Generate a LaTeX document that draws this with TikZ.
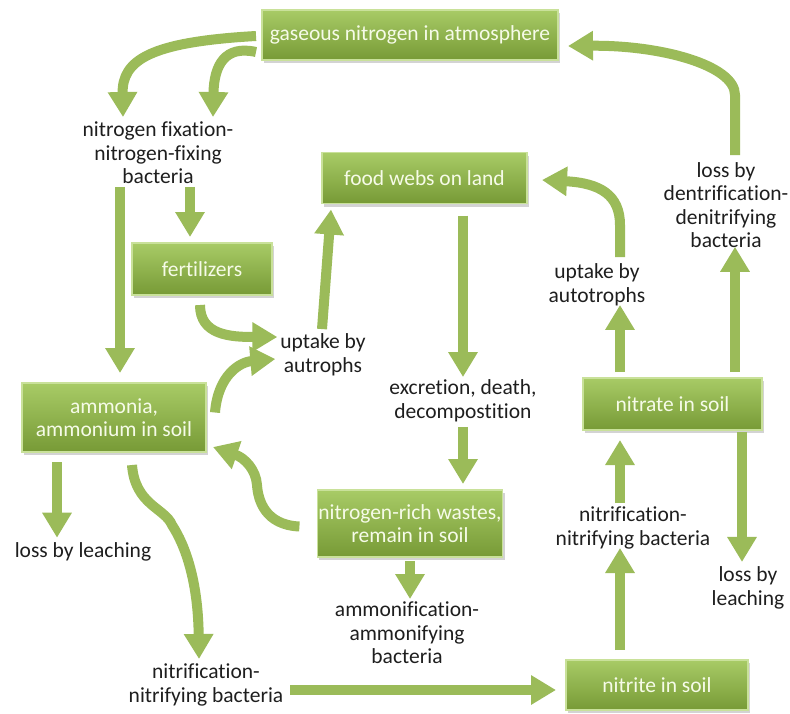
\documentclass[tikz,border=0pt]{standalone}
\usepackage{fontspec}
\setmainfont[Ligatures={NoCommon}]{Carlito}
\usetikzlibrary{arrows.meta,calc,shadows}
\definecolor{arrgreen}{HTML}{9BBB59}
\definecolor{boxtop}{HTML}{A8CB66}
\definecolor{boxbot}{HTML}{779A36}
\definecolor{boxrim}{HTML}{C9E19A}
\definecolor{boxtext}{HTML}{F6FBE8}
\definecolor{lbltext}{HTML}{1E1E1E}
\begin{document}
\begin{tikzpicture}
	[x=1pt,y=-1pt,
	every node/.style={inner sep=1pt,outer sep=0,font=\fontsize{21.5}{23.5}\selectfont},
	cycbox/.style={shape=rectangle,top color=boxtop,bottom color=boxbot,
		draw=boxrim,line width=1.2pt,text=boxtext,align=center,
		drop shadow={shadow xshift=2pt,shadow yshift=-3pt,opacity=.35}},
	lbl/.style={text=lbltext,align=center},
	arr/.style={draw=arrgreen,line width=10pt,
		-{Triangle[width=28pt,length=25pt]}}]
	\useasboundingbox (0,0) rectangle (790,713);
	\node[cycbox,minimum width=296,minimum height=50] (gas)     at (410,35)    {gaseous nitrogen in atmosphere};
	\node[cycbox,minimum width=205,minimum height=51] (food)    at (424.5,178) {food webs on land};
	\node[cycbox,minimum width=140,minimum height=52] (fert)    at (202,269)   {fertilizers};
	\node[cycbox,minimum width=184,minimum height=69] (amm)     at (114,417.5) {ammonia,\\ammonium in soil};
	\node[cycbox,minimum width=180,minimum height=67] (wastes)  at (410,523.5) {nitrogen-rich wastes,\\remain in soil};
	\node[cycbox,minimum width=179,minimum height=52] (nitrate) at (672.5,404) {nitrate in soil};
	\node[cycbox,minimum width=182,minimum height=50] (nitrite) at (657,685)   {nitrite in soil};
	\node[lbl] (fix)     at (158,153) {nitrogen fixation-\\nitrogen-fixing\\bacteria};
	\node[lbl] (upL)     at (323,355) {uptake by\\autrophs};
	\node[lbl] (excr)    at (463,401) {excretion, death,\\decompostition};
	\node[lbl] (leachL)  at (83,552)  {loss by leaching};
	\node[lbl] (ammonif) at (407,633) {ammonification-\\ammonifying\\bacteria};
	\node[lbl] (nitrifL) at (206,685) {nitrification-\\nitrifying bacteria};
	\node[lbl] (nitrifR) at (633,528) {nitrification-\\nitrifying bacteria};
	\node[lbl] (upR)     at (597,285) {uptake by\\autotrophs};
	\node[lbl] (denitr)  at (726,205) {loss by\\dentrification-\\denitrifying\\bacteria};
	\node[lbl] (leachR)  at (748,588) {loss by\\leaching};
	\draw[arr] ($(gas.west)+(-6,1)$) .. controls (150,42) and (122,60) .. ($(fix.north)+(-35,-4)$);
	\draw[arr] ($(gas.west)+(-6,17)$) .. controls (225,45) and (214,65) .. ($(fix.north)+(55,-4)$);
	\draw[arr] ($(fix.south)+(-38,2)$) -- ($(amm.north)+(6,-10)$);
	\draw[arr] ($(fix.south)+(32,2)$) -- ($(fert.north)+(-12,-6)$);
	\draw[arr] ($(fert.south)+(-2,10)$) .. controls (200,335) and (230,337) .. ($(upL.west)+(-2,-18)$);
	\draw[arr] ($(amm.east)+(9,-5)$) .. controls (218,375) and (240,362) .. ($(upL.west)+(-4,4)$);
	\draw[arr] ($(upL.north)+(-1,-4)$) -- ($(food.south west)+(9,6)$);
	\draw[arr] ($(food.south)+(38.5,12)$) -- ($(excr.north)+(0,-2)$);
	\draw[arr] ($(excr.south)+(0,4)$) -- ($(wastes.north)+(53,-6)$);
	\draw[arr] ($(wastes.west)+(-18,3)$) .. controls (265,525) and (258,500) .. (257,485)
		.. controls (256,470) and (245,458) .. ($(amm.south east)+(7,-5)$);
	\draw[arr] ($(wastes.south)+(0,4)$) -- ($(ammonif.north)+(3,-2)$);
	\draw[arr] ($(amm.south)+(-57,10)$) -- ($(leachL.north)+(-26,-4)$);
	\draw[arr] ($(amm.south)+(18,13)$) .. controls (135,505) and (165,508) .. (172,525)
		.. controls (185,545) and (198,580) .. ($(nitrifL.north)+(-7,-4)$);
	\draw[arr] ($(nitrifL.east)+(6,5)$) -- ($(nitrite.west)+(-10,5)$);
	\draw[arr] ($(nitrite.north)+(-37,-10)$) -- ($(nitrifR.south)+(-13,-2)$);
	\draw[arr] ($(nitrifR.north)+(-13,-3)$) -- ($(nitrate.south)+(-52.5,10)$);
	\draw[arr] ($(nitrate.north)+(-52.5,-6)$) -- ($(upR.south)+(23,-2)$);
	\draw[arr] ($(upR.north)+(23,-6)$) -- (620,225) .. controls (620,195) and (600,183) .. ($(food.east)+(15,2)$);
	\draw[arr] ($(nitrate.north)+(62.5,-6)$) -- ($(denitr.south)+(9,-2)$);
	\draw[arr] ($(denitr.north)+(9,-6)$) -- (735,95) .. controls (735,65) and (660,45) .. ($(gas.east)+(10,11)$);
	\draw[arr] ($(nitrate.south)+(69.5,2)$) -- ($(leachR.north)+(-6,-4)$);
\end{tikzpicture}
\end{document}
